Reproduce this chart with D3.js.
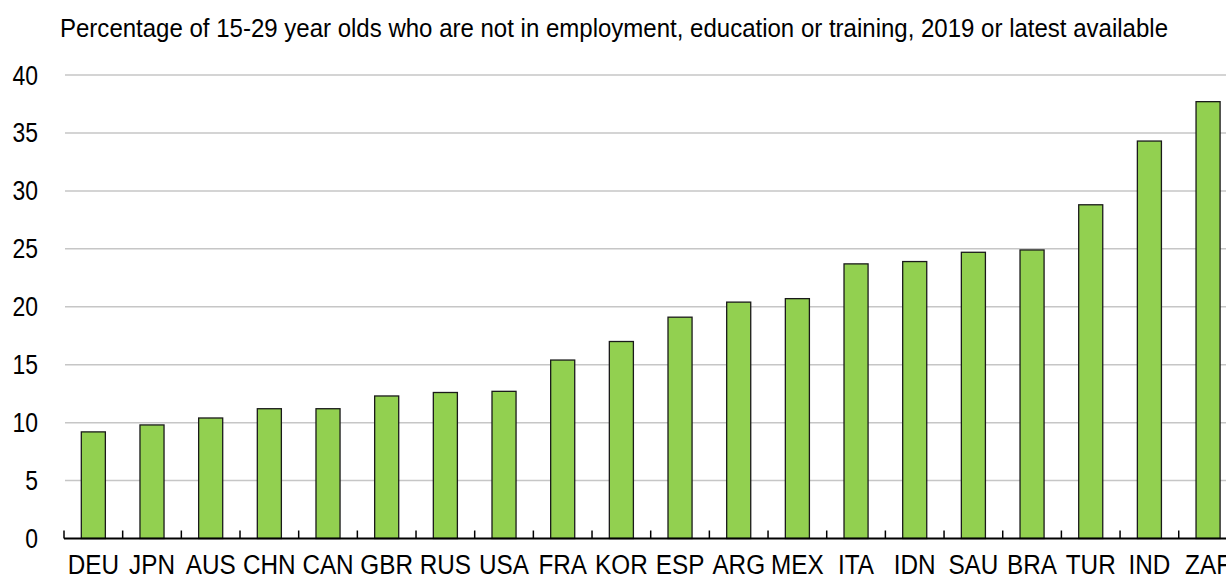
<!DOCTYPE html>
<html>
<head>
<meta charset="utf-8">
<script src="https://cdn.jsdelivr.net/npm/d3@7"></script>
<style>
  html, body { margin: 0; padding: 0; background: #fff; overflow: hidden; }
  svg { display: block; }
  text { font-family: "Liberation Sans", Arial, sans-serif; fill: #000; }
</style>
</head>
<body>
<svg id="chart" width="1226" height="576"></svg>
<script>
const categories = ["DEU","JPN","AUS","CHN","CAN","GBR","RUS","USA","FRA","KOR","ESP","ARG","MEX","ITA","IDN","SAU","BRA","TUR","IND","ZAF"];
const values = [9.2, 9.8, 10.4, 11.2, 11.2, 12.3, 12.6, 12.7, 15.4, 17.0, 19.1, 20.4, 20.7, 23.7, 23.9, 24.7, 24.9, 28.8, 34.3, 37.7];
const yTicks = [0, 5, 10, 15, 20, 25, 30, 35, 40];
const title = "Percentage of 15-29 year olds who are not in employment, education or training, 2019 or latest available";

const svg = d3.select("#chart");
const W = 1226, H = 576;
const left = 64, step = 58.67;
const narrowY = 0.85, narrowX = 0.9;
const x = d3.scaleBand().domain(categories)
  .range([left, left + step * categories.length])
  .paddingInner(0.59).paddingOuter(0.295);
const y = d3.scaleLinear().domain([0, 40]).range([538.5, 75]);

// title (condensed to match the reference's narrow face)
svg.append("text").attr("x", 60).attr("y", 37).attr("font-size", 26)
  .attr("textLength", 1108).attr("lengthAdjust", "spacingAndGlyphs")
  .text(title);

// gridlines
svg.append("g").selectAll("line").data(yTicks.filter(d => d > 0)).join("line")
  .attr("x1", 65).attr("x2", W)
  .attr("y1", d => y(d)).attr("y2", d => y(d))
  .attr("stroke", "#c6c6c6").attr("stroke-width", 1.5);

// y labels
svg.append("g").selectAll("text").data(yTicks).join("text")
  .attr("transform", d => `translate(38,${y(d) + 9.5}) scale(${narrowY},1)`)
  .attr("text-anchor", "end").attr("font-size", 27)
  .text(d => d);

// bars
svg.append("g").selectAll("rect").data(values).join("rect")
  .attr("x", (d, i) => x(categories[i]))
  .attr("width", x.bandwidth())
  .attr("y", d => y(d))
  .attr("height", d => y(0) - y(d))
  .attr("fill", "#92d050")
  .attr("stroke", "#1a1a1a").attr("stroke-width", 1.3);

// x axis labels via band scale
const axisG = svg.append("g").attr("transform", `translate(0,${y(0)})`);
axisG.call(d3.axisBottom(x).tickSize(0).tickPadding(0));
axisG.attr("font-size", null).attr("font-family", null);
axisG.select(".domain").remove();
axisG.selectAll(".tick line").remove();
axisG.selectAll(".tick text")
  .attr("y", null).attr("dy", null)
  .attr("transform", `translate(0,35.5) scale(${narrowX},1)`)
  .attr("font-size", 27)
  .style("font-family", '"Liberation Sans", Arial, sans-serif')
  .attr("fill", "#000");

// axis baseline
svg.append("line").attr("x1", left).attr("x2", W)
  .attr("y1", y(0)).attr("y2", y(0))
  .attr("stroke", "#000").attr("stroke-width", 2);

// ticks between categories
const boundaries = d3.range(categories.length + 1).map(i => left + i * x.step());
svg.append("g").selectAll("line").data(boundaries).join("line")
  .attr("x1", d => d).attr("x2", d => d)
  .attr("y1", y(0)).attr("y2", y(0) - 8)
  .attr("stroke", "#000").attr("stroke-width", 1.5);
</script>
</body>
</html>
